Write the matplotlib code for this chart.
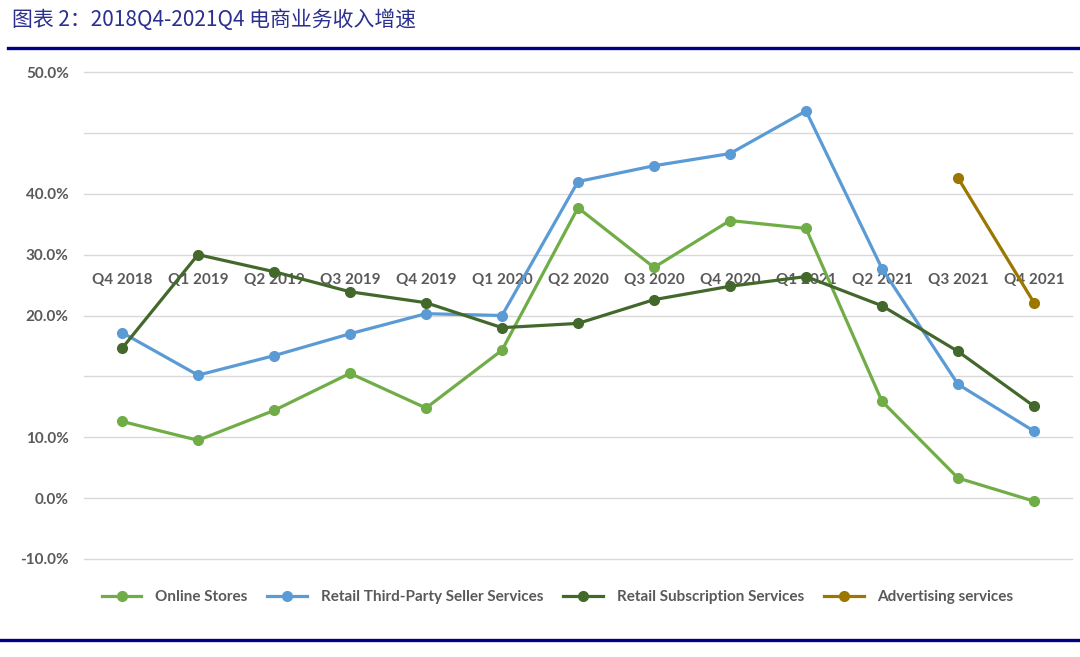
import matplotlib.pyplot as plt
from matplotlib.lines import Line2D

plt.rcParams["font.family"] = ["Lato", "DejaVu Sans"]

quarters = ["Q4 2018", "Q1 2019", "Q2 2019", "Q3 2019", "Q4 2019", "Q1 2020",
            "Q2 2020", "Q3 2020", "Q4 2020", "Q1 2021", "Q2 2021", "Q3 2021", "Q4 2021"]

# growth, % (the axis labels in the source are misplaced)
online_stores = [12.6, 9.5, 14.4, 20.5, 14.8, 24.3, 47.7, 37.9, 45.6, 44.3, 15.9, 3.3, -0.5]
third_party = [27.2, 20.2, 23.4, 27.0, 30.3, 30.0, 52.0, 54.6, 56.6, 63.6, 37.7, 18.7, 11.0]
subscription = [24.6, 40.0, 37.2, 33.9, 32.1, 28.0, 28.7, 32.6, 34.8, 36.4, 31.6, 24.1, 15.1]
advertising = [None] * 11 + [52.6, 32.1]

series = [
    ("Online Stores", online_stores, "#70AD47"),
    ("Retail Third-Party Seller Services", third_party, "#5B9BD5"),
    ("Retail Subscription Services", subscription, "#43682B"),
    ("Advertising services", advertising, "#9C7700"),
]

# gridlines and the labels that sit next to them in the source
grid_vals = [70, 60, 50, 40, 30, 20, 10, 0, -10]
grid_labels = ["50.0%", "", "40.0%", "30.0%", "20.0%", "", "10.0%", "0.0%", "-10.0%"]

fig = plt.figure(figsize=(10.8, 6.57), dpi=100)
ax = fig.add_axes([84 / 1080, (657 - 559) / 657, (1072 - 84) / 1080, (559 - 72) / 657])

x = list(range(len(quarters)))
handles = []
for name, vals, color in series:
    xs = [i for i, v in zip(x, vals) if v is not None]
    ys = [v for v in vals if v is not None]
    ax.plot(xs, ys, color=color, lw=2.3, marker="o", ms=7, zorder=3)
    handles.append(Line2D([], [], color=color, lw=2.3, marker="o", ms=7, label=name))

ax.set_xlim(-0.5, len(quarters) - 0.5)
ax.set_ylim(-10, 70)
ax.set_yticks(grid_vals)
ax.set_yticklabels(grid_labels)
ax.grid(axis="y", color="#D9D9D9", lw=1)
for gl in ax.get_ygridlines():
    gl.set_clip_on(False)
ax.set_xticks(x)
ax.set_xticklabels(quarters)

for s in ax.spines.values():
    s.set_visible(False)
ax.spines["bottom"].set_position(("data", 37.0))
ax.tick_params(axis="x", length=0, pad=0, labelsize=11, labelcolor="#595959")
ax.tick_params(axis="y", length=0, pad=11, labelsize=11, labelcolor="#595959")
for lab in ax.get_xticklabels() + ax.get_yticklabels():
    lab.set_fontweight("bold")

leg = fig.legend(handles=handles, loc="center left", bbox_to_anchor=(88 / 1080, 1 - 597 / 657),
                 ncol=4, frameon=False, fontsize=11, handlelength=2.6,
                 handletextpad=0.9, columnspacing=1.3)
for t in leg.get_texts():
    t.set_color("#595959")
    t.set_fontweight("bold")

fig.text(12 / 1080, 1 - 20 / 657, "图表 2：2018Q4-2021Q4 电商业务收入增速",
         family=["Noto Sans CJK SC", "DejaVu Sans"], fontsize=15, color="#2B2F8F",
         va="center", ha="left")
fig.add_artist(Line2D([8 / 1080, 1], [1 - 48 / 657] * 2, color="#000080", lw=2.4))
fig.add_artist(Line2D([0, 1], [1 - 640 / 657] * 2, color="#000080", lw=2.4))

fig.savefig("out.png", dpi=100)
